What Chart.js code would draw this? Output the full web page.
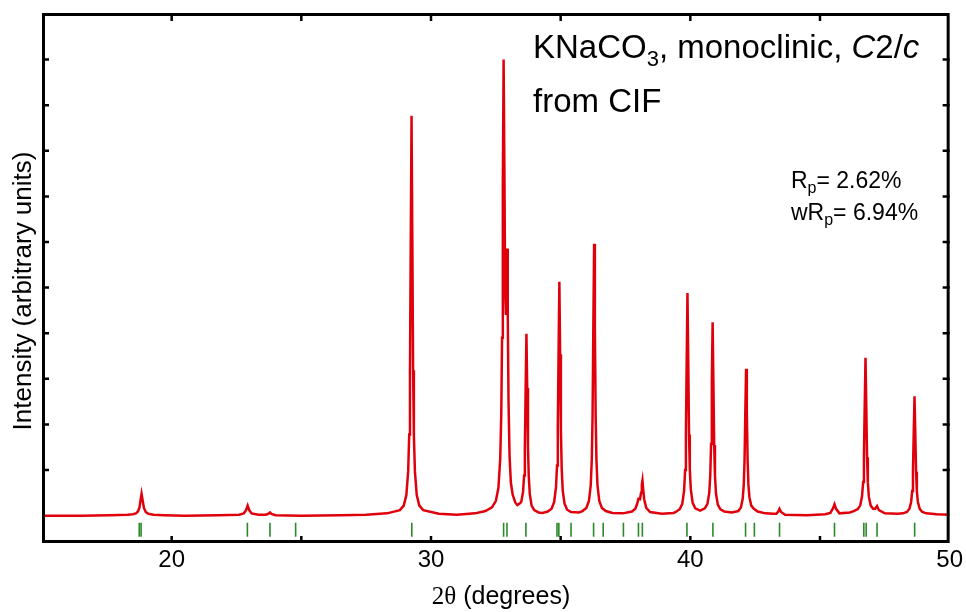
<!DOCTYPE html>
<html>
<head>
<meta charset="utf-8">
<script src="https://cdn.jsdelivr.net/npm/chart.js@4.4.1/dist/chart.umd.min.js"></script>
<style>
  html, body { margin: 0; padding: 0; background: #fff; }
</style>
</head>
<body>
<canvas id="canvas" width="966" height="612"></canvas>
<script>
// powder pattern trace (2θ in degrees, intensity in arbitrary units)
const twoTheta = [
    15.0, 16.5, 17.6,
    18.3, 18.5, 18.62, 18.7, 18.76, 18.8, 18.84, 18.88, 18.93, 19.0, 19.1, 19.3, 19.7,
    20.5, 21.8,
    22.6, 22.78, 22.87, 22.93, 22.99, 23.08, 23.35,
    23.62, 23.73, 23.79, 23.85, 24.0,
    25.0, 26.5, 27.5, 28.3,
    28.8, 28.95, 29.05, 29.12, 29.16, 29.19, 29.22, 29.25, 29.28, 29.31, 29.34, 29.38, 29.45, 29.55, 29.7,
    30.3, 31.0, 31.7, 32.1,
    32.35, 32.5, 32.6, 32.67, 32.71, 32.74, 32.77, 32.80, 32.83, 32.86, 32.89, 32.91, 32.935, 32.96, 32.99,
    33.03, 33.08, 33.15, 33.25, 33.33,
    33.43, 33.48, 33.55, 33.59, 33.62, 33.65, 33.68, 33.71, 33.74, 33.77, 33.81, 33.88, 33.98, 34.15, 34.3,
    34.5, 34.65, 34.75, 34.82, 34.86, 34.89, 34.92, 34.95, 34.98, 35.01, 35.04, 35.08, 35.15, 35.25, 35.4,
    35.7, 35.84, 35.99, 36.09, 36.16, 36.2, 36.23, 36.26, 36.29, 36.32, 36.35, 36.38, 36.42, 36.49, 36.59,
    36.74, 37.0, 37.4, 37.75,
    37.88, 37.95, 38.0, 38.06, 38.1, 38.13, 38.155, 38.18, 38.22, 38.3, 38.45, 38.9,
    39.35, 39.44, 39.59, 39.69, 39.76, 39.8, 39.83, 39.86, 39.89, 39.92, 39.95, 39.98, 40.02, 40.09, 40.19, 40.38,
    40.56, 40.66, 40.73, 40.77, 40.8, 40.83, 40.86, 40.89, 40.92, 40.95, 40.99, 41.06, 41.16, 41.31, 41.6,
    41.85, 41.95, 42.02, 42.06, 42.09, 42.12, 42.15, 42.18, 42.21, 42.24, 42.28, 42.35, 42.45, 42.6, 42.9, 43.2,
    43.32, 43.39, 43.44, 43.5, 43.65,
    44.5, 45.2,
    45.4, 45.5, 45.56, 45.62, 45.75,
    46.15,
    46.3, 46.45, 46.55, 46.62, 46.665, 46.695, 46.725, 46.755, 46.785, 46.815, 46.845, 46.885, 46.955,
    47.05, 47.13, 47.2, 47.27, 47.5,
    48.0, 48.2, 48.35, 48.45, 48.515, 48.555, 48.585, 48.615, 48.645, 48.675, 48.705, 48.735, 48.775,
    48.845, 48.945, 49.1, 49.5, 50.0
]
const intensity = [
    0.0, 0.0, 0.01,
    0.02, 0.03, 0.05, 0.09, 0.18, 0.34, 0.48, 0.34, 0.17, 0.08, 0.04, 0.02, 0.01,
    0.0, 0.01,
    0.02, 0.05, 0.12, 0.22, 0.12, 0.05, 0.02,
    0.02, 0.04, 0.07, 0.04, 0.01,
    0.0, 0.01, 0.02, 0.05,
    0.12, 0.22, 0.45, 0.97, 1.78, 3.19, 6.08, 8.77, 6.08, 3.19, 1.78, 0.97, 0.45, 0.22, 0.12,
    0.04, 0.02, 0.05, 0.1,
    0.18, 0.32, 0.61, 1.25, 2.23, 3.9, 7.25, 10.0, 7.65, 4.9, 4.4, 5.1, 5.86, 4.4, 2.5,
    1.3, 0.72, 0.46, 0.29, 0.23,
    0.27, 0.3, 0.52, 0.88, 1.5, 2.8, 3.99, 2.8, 1.5, 0.86, 0.47, 0.22, 0.12, 0.07, 0.06,
    0.09, 0.15, 0.3, 0.62, 1.1, 1.95, 3.6, 5.13, 3.54, 1.85, 1.03, 0.55, 0.26, 0.13, 0.08,
    0.07, 0.1, 0.17, 0.32, 0.67, 1.22, 2.18, 4.14, 5.96, 4.14, 2.18, 1.22, 0.67, 0.32, 0.17,
    0.1, 0.06, 0.05, 0.09,
    0.15, 0.26, 0.37, 0.36, 0.5, 0.68, 0.77, 0.6, 0.36, 0.17, 0.08, 0.04,
    0.06, 0.08, 0.14, 0.26, 0.55, 1.0, 1.78, 3.39, 4.88, 3.39, 1.78, 1.02, 0.57, 0.28, 0.16, 0.11,
    0.16, 0.26, 0.5, 0.9, 1.57, 2.96, 4.24, 2.95, 1.55, 0.88, 0.48, 0.24, 0.14, 0.09, 0.07,
    0.1, 0.18, 0.37, 0.67, 1.19, 2.25, 3.22, 2.25, 1.2, 0.68, 0.4, 0.22, 0.15, 0.09, 0.05, 0.04,
    0.04, 0.09, 0.15, 0.08, 0.02,
    0.01, 0.03,
    0.06, 0.16, 0.25, 0.15, 0.05,
    0.07,
    0.1, 0.14, 0.22, 0.42, 0.74, 1.3, 2.42, 3.46, 2.42, 1.28, 0.73, 0.41, 0.22,
    0.15, 0.15, 0.21, 0.12, 0.05,
    0.04, 0.05, 0.08, 0.15, 0.3, 0.54, 0.96, 1.83, 2.62, 1.83, 0.96, 0.54, 0.3,
    0.15, 0.08, 0.05, 0.03, 0.02
]
// Bragg reflection positions (green marks)
const reflections = [18.75, 18.82, 22.92, 23.79, 24.78, 29.26, 32.80, 32.93, 33.66, 34.86, 34.93, 35.40,
    36.27, 36.64, 37.42, 38.00, 38.15, 39.87, 40.87, 42.13, 42.47, 43.44, 45.56, 46.69, 46.78, 47.20, 48.65]

const xTicks = [20, 25, 30, 35, 40, 45]
const xTickLabels = [20, 30, 40, 50]
const yTicks = [1, 2, 3, 4, 5, 6, 7, 8, 9, 10]

const xTitle = ['2\u03b8', ' (degrees)']
const yTitle = 'Intensity (arbitrary units)'

const SANS = 'Arial, "Liberation Sans", sans-serif'
const SERIF = '"Times New Roman", "Liberation Serif", serif'

function drawRuns(ctx, x, y, runs) {
    for (const [t, font, dy] of runs) {
        ctx.font = font
        ctx.fillText(t, x, y + dy)
        x += ctx.measureText(t).width
    }
    return x
}

const framePlugin = {
    id: 'frame',
    afterDraw(chart) {
        const { ctx, chartArea: a, scales: { x, y } } = chart
        ctx.save()
        ctx.strokeStyle = '#000'
        ctx.lineWidth = 2.5
        ctx.beginPath()
        for (const v of xTicks) {
            const px = x.getPixelForValue(v)
            ctx.moveTo(px, a.bottom); ctx.lineTo(px, a.bottom - 7)
            ctx.moveTo(px, a.top); ctx.lineTo(px, a.top + 7)
        }
        for (const v of yTicks) {
            const py = y.getPixelForValue(v)
            ctx.moveTo(a.left, py); ctx.lineTo(a.left + 7, py)
            ctx.moveTo(a.right, py); ctx.lineTo(a.right - 7, py)
        }
        ctx.stroke()
        ctx.lineWidth = 3
        ctx.strokeRect(a.left + 1.5, a.top + 0.5, a.right - a.left - 3, a.bottom - a.top - 2)

        ctx.fillStyle = '#000'
        ctx.textAlign = 'left'
        ctx.textBaseline = 'alphabetic'

        // axis titles
        ctx.font = '25px ' + SERIF
        const w1 = ctx.measureText(xTitle[0]).width
        ctx.font = '25px ' + SANS
        const w2 = ctx.measureText(xTitle[1]).width
        drawRuns(ctx, 501 - (w1 + w2) / 2, 604, [[xTitle[0], '25px ' + SERIF, 0], [xTitle[1], '25px ' + SANS, 0]])

        ctx.save()
        ctx.translate(31, 291)
        ctx.rotate(-Math.PI / 2)
        ctx.textAlign = 'center'
        ctx.font = '26px ' + SANS
        ctx.fillText(yTitle, 0, 0)
        ctx.restore()

        // annotations
        const big = '33px ' + SANS
        const bigI = 'italic 33px ' + SANS
        drawRuns(ctx, 533, 58, [['KNaCO', big, 0], ['3', '22px ' + SANS, 8], [', monoclinic, ', big, 0],
            ['C', bigI, 0], ['2/', big, 0], ['c', bigI, 0]])
        drawRuns(ctx, 533, 112, [['from CIF', big, 0]])

        const mid = '23px ' + SANS
        const sub = '16px ' + SANS
        drawRuns(ctx, 791, 188, [['R', mid, 0], ['p', sub, 5], ['= 2.62%', mid, 0]])
        drawRuns(ctx, 791, 220, [['wR', mid, 0], ['p', sub, 5], ['= 6.94%', mid, 0]])
        ctx.restore()
    }
}

const configChart = {
    type: 'line',
    plugins: [framePlugin],
    data: {
        datasets: [{
            label: 'reflections',
            data: reflections.map(v => ({ x: v, y: -0.31 })),
            showLine: false,
            pointStyle: 'line',
            rotation: 90,
            pointRadius: 7,
            borderColor: '#2a8a2a',
            backgroundColor: '#2a8a2a',
            borderWidth: 1.6
        }, {
            label: 'calculated',
            data: twoTheta.map((v, i) => ({ x: v, y: intensity[i] })),
            borderColor: '#e0000b',
            borderWidth: 2.5,
            pointRadius: 0,
            tension: 0,
            fill: false
        }]
    },
    options: {
        responsive: false,
        animation: false,
        devicePixelRatio: 1,
        layout: { padding: { top: 14, right: 15, left: 0, bottom: 0 } },
        plugins: {
            legend: { display: false },
            tooltip: { enabled: false }
        },
        scales: {
            x: {
                type: 'linear',
                min: 15,
                max: 50,
                afterBuildTicks(scale) {
                    scale.ticks = xTickLabels.map(v => ({ value: v }))
                },
                afterFit(scale) { scale.height = 69 },
                ticks: {
                    color: '#000',
                    font: { family: SANS, size: 24 },
                    padding: 3,
                    maxRotation: 0,
                    autoSkip: false
                },
                grid: { display: false, drawTicks: false },
                border: { display: false }
            },
            y: {
                type: 'linear',
                min: -0.6,
                max: 11,
                afterFit(scale) { scale.width = 42 },
                ticks: { display: false },
                grid: { display: false, drawTicks: false },
                border: { display: false }
            }
        }
    }
}

const canvas = document.getElementById('canvas')
const myChart = new Chart(canvas, configChart)
</script>
</body>
</html>
